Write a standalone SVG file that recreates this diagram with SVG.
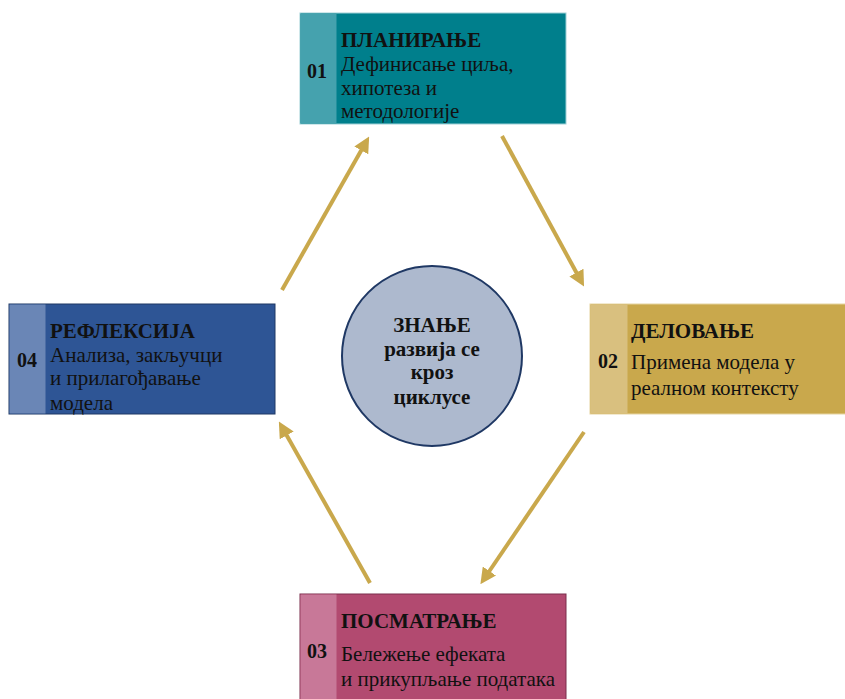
<svg xmlns="http://www.w3.org/2000/svg" width="845" height="699" viewBox="0 0 845 699">
<style>
.t{font-weight:bold;font-size:21px}
.b{font-size:21px}
.n{font-weight:bold;font-size:20px}
.c{font-weight:bold;font-size:21px;text-anchor:middle}
.arr{stroke:#C9A84C;stroke-width:4;fill:none;marker-end:url(#ah)}
</style>
<defs>
<marker id="ah" viewBox="0 0 10 10" refX="6" refY="5" markerWidth="4" markerHeight="4" orient="auto" markerUnits="strokeWidth">
<path d="M0,0 L10,5 L0,10 z" fill="#C9A84C"/>
</marker>
</defs>
<rect width="845" height="699" fill="#fff"/>
<g id="connectors">
<line class="arr" x1="282" y1="290" x2="366" y2="142"/>
<line class="arr" x1="502" y1="136" x2="581" y2="281"/>
<line class="arr" x1="584" y1="432" x2="484" y2="579"/>
<line class="arr" x1="370" y1="583" x2="282" y2="427"/>
</g>
<g font-family="'Liberation Serif', 'DejaVu Serif', serif" fill="#111">
<g id="center">
<circle cx="432" cy="356" r="90" fill="#ADB9CE" stroke="#1F3864" stroke-width="2"/>
<text class="c" x="432" y="332">ЗНАЊЕ</text>
<text class="c" x="432" y="356">развија се</text>
<text class="c" x="432" y="379">кроз</text>
<text class="c" x="432" y="404">циклусе</text>
</g>
<g id="n01">
<rect x="300" y="13" width="266" height="111" fill="#007F8C" stroke="#9ED0D6" stroke-width="1"/>
<rect x="300.5" y="13.5" width="36" height="110" fill="#45A2AE"/>
<text class="n" x="307" y="78">01</text>
<text class="t" x="341" y="47">ПЛАНИРАЊЕ</text>
<text class="b" x="341" y="71">Дефинисање циља,</text>
<text class="b" x="341" y="95">хипотеза и</text>
<text class="b" x="341" y="118">методологије</text>
</g>
<g id="n02">
<rect x="590" y="304" width="256" height="110" fill="#C9A84C" stroke="#E6D4A0" stroke-width="1"/>
<rect x="590.5" y="304.5" width="37" height="109" fill="#D9C07F"/>
<text class="n" x="598" y="368">02</text>
<text class="t" x="631" y="338">ДЕЛОВАЊЕ</text>
<text class="b" x="631" y="369">Примена модела у</text>
<text class="b" x="631" y="395">реалном контексту</text>
</g>
<g id="n03">
<rect x="300" y="594" width="266" height="110" fill="#B24A70" stroke="#7A2F4C" stroke-width="1"/>
<rect x="300.5" y="594.5" width="36" height="109" fill="#C87898"/>
<text class="n" x="307" y="658">03</text>
<text class="t" x="341" y="628">ПОСМАТРАЊЕ</text>
<text class="b" x="341" y="661">Бележење ефеката</text>
<text class="b" x="341" y="686">и прикупљање података</text>
</g>
<g id="n04">
<rect x="9" y="304" width="266" height="110" fill="#2E5595" stroke="#1F3864" stroke-width="1"/>
<rect x="9.5" y="304.5" width="36" height="109" fill="#6A86B6"/>
<text class="n" x="17" y="367">04</text>
<text class="t" x="50" y="338">РЕФЛЕКСИЈА</text>
<text class="b" x="50" y="362">Анализа, закључци</text>
<text class="b" x="50" y="385">и прилагођавање</text>
<text class="b" x="50" y="410">модела</text>
</g>
</g>
</svg>
